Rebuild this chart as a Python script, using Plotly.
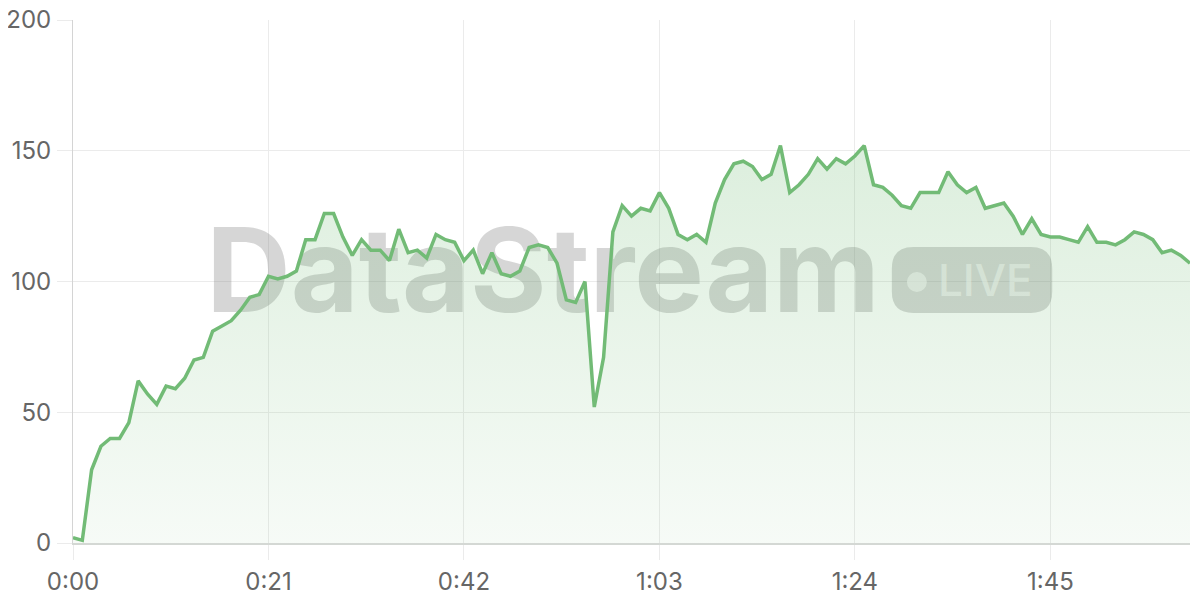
import plotly.graph_objects as go

# ---- data ----
seconds = list(range(0, 121))
values = [
    2, 1, 28, 37, 40, 40, 46, 62, 57, 53,
    60, 59, 63, 70, 71, 81, 83, 85, 89, 94,
    95, 102, 101, 102, 104, 116, 116, 126, 126, 117,
    110, 116, 112, 112, 108, 120, 111, 112, 109, 118,
    116, 115, 108, 112, 103, 111, 103, 102, 104, 113,
    114, 113, 107, 93, 92, 100, 52, 71, 119, 129,
    125, 128, 127, 134, 128, 118, 116, 118, 115, 130,
    139, 145, 146, 144, 139, 141, 152, 134, 137, 141,
    147, 143, 147, 145, 148, 152, 137, 136, 133, 129,
    128, 134, 134, 134, 142, 137, 134, 136, 128, 129,
    130, 125, 118, 124, 118, 117, 117, 116, 115, 121,
    115, 115, 114, 116, 119, 118, 116, 111, 112, 110,
    107,
]
tick_vals = [0, 21, 42, 63, 84, 105]
tick_text = ["0:00", "0:21", "0:42", "1:03", "1:24", "1:45"]
y_ticks = [0, 50, 100, 150, 200]

LINE = "#72bb76"
GRID = "#ebebeb"
FONT = "Inter"

fig = go.Figure()
fig.add_trace(go.Scatter(
    x=seconds, y=values, mode="lines",
    line=dict(color=LINE, width=3.5),
    fill="tozeroy",
    fillgradient=dict(type="vertical",
                      colorscale=[[0, "rgba(111,186,115,0.06)"],
                                  [1, "rgba(111,186,115,0.24)"]]),
    hoverinfo="skip",
))

WM = "rgba(120,120,120,0.30)"
# watermark text
fig.add_shape(type="rect", xref="x", yref="y", x0=0, x1=101.0, y0=91.5, y1=120.5,
              line=dict(width=0), fillcolor="rgba(0,0,0,0)", layer="between",
              label=dict(text="DataStream", textposition="middle center",
                         font=dict(family=FONT, size=117, color=WM, weight="bold")))
# LIVE pill
x0, x1, y0, y1 = 87.97, 105.2, 88.0, 113.2
rx, ry = 2.3, 8.2
path = (f"M {x0+rx},{y0} L {x1-rx},{y0} Q {x1},{y0} {x1},{y0+ry} "
        f"L {x1},{y1-ry} Q {x1},{y1} {x1-rx},{y1} L {x0+rx},{y1} "
        f"Q {x0},{y1} {x0},{y1-ry} L {x0},{y0+ry} Q {x0},{y0} {x0+rx},{y0} Z")
fig.add_shape(type="path", xref="x", yref="y", path=path,
              line=dict(width=0), fillcolor=WM, layer="between")
fig.add_shape(type="circle", xref="x", yref="y",
              x0=90.66-1.07, x1=90.66+1.07, y0=99.8-3.82, y1=99.8+3.82,
              line=dict(width=0), fillcolor="rgba(255,255,255,0.55)", layer="between")
fig.add_shape(type="rect", xref="x", yref="y", x0=92.5, x1=103.5, y0=90, y1=112,
              line=dict(width=0), fillcolor="rgba(0,0,0,0)", layer="between",
              label=dict(text="LIVE", textposition="middle center",
                         font=dict(family=FONT, size=44, color="rgba(255,255,255,0.55)",
                                   weight=500)))

# page body has an 8px margin: size the figure so the plot lands where the reference has it
fig.update_layout(
    width=1192, height=592,
    margin=dict(l=65, r=10, t=12, b=57, autoexpand=False),
    paper_bgcolor="white", plot_bgcolor="white",
    showlegend=False,
    font=dict(family=FONT, color="#666666", size=24),
)
fig.update_xaxes(
    range=[0, 120], tickvals=tick_vals, ticktext=tick_text,
    showgrid=True, gridcolor=GRID, gridwidth=1,
    showline=True, linecolor="#d4d8d4", linewidth=1.5,
    ticks="outside", ticklen=15, tickcolor=GRID, tickwidth=1,
    ticklabelstandoff=1, zeroline=False, automargin=False,
    ticklabeloverflow="allow",
)
fig.update_yaxes(
    range=[0, 200.01], tickvals=y_ticks,
    showgrid=True, gridcolor=GRID, gridwidth=1,
    showline=True, linecolor="#d4d4d4", linewidth=1,
    ticks="outside", ticklen=15, tickcolor=GRID, tickwidth=1,
    ticklabelstandoff=1, zeroline=False, automargin=False,
    ticklabeloverflow="allow",
)

fig.write_html("out.html")
